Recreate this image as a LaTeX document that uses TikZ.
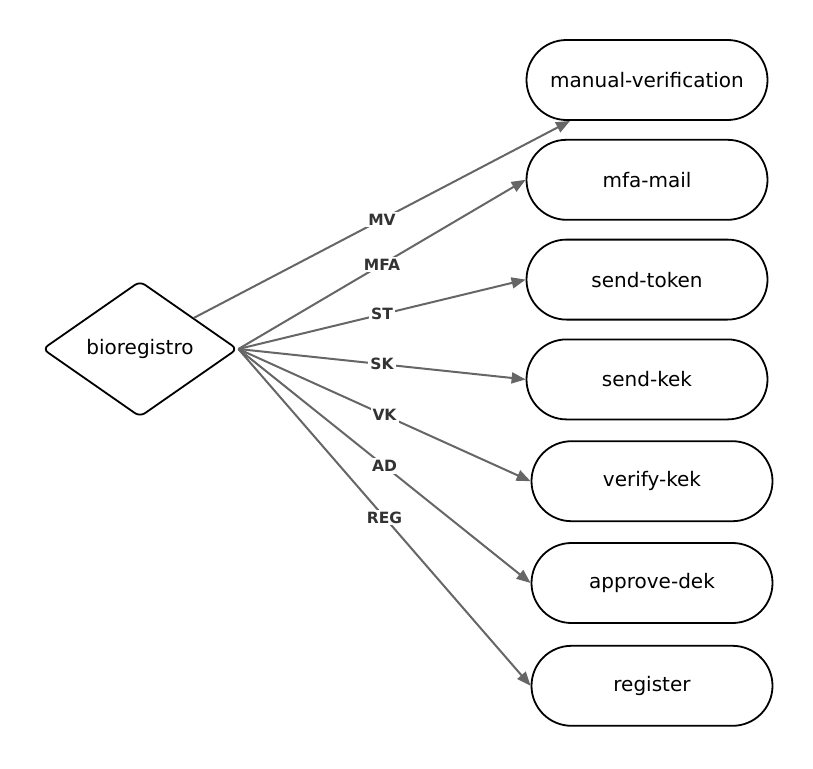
\documentclass[tikz,border=0pt]{standalone}
\usepackage{fontspec}
\setmainfont{DejaVu Sans}
\usetikzlibrary{arrows.meta,positioning,shapes.geometric}
\definecolor{linkgray}{HTML}{666666}
\definecolor{labelgray}{HTML}{333333}
\tikzset{
  endpoint/.style={draw=black, rounded corners=40pt, minimum width=241pt, minimum height=80pt, line width=1.8pt, align=center, font=\fontsize{20}{24}\selectfont},
  hub/.style={diamond, draw=black, rounded corners=6pt, minimum width=195pt, minimum height=136pt, inner sep=0pt, line width=1.8pt, font=\fontsize{20}{24}\selectfont},
  link/.style={draw=linkgray, -{Triangle[length=14pt,width=11pt]}, line width=2pt},
  edgelabel/.style={fill=white, text=labelgray, inner sep=2pt, font=\bfseries\fontsize{15.5}{18}\selectfont}
}

\begin{document}
\begin{tikzpicture}[x=1pt, y=1pt, node distance=18pt]
\useasboundingbox (0,0) rectangle (813,-768);
\node[hub] (bio) at (140,-349) {bioregistro};
\node[endpoint] (mv) at (647,-80) {manual-verification};
\node[endpoint, below=of mv] (mfa) {mfa-mail};
\node[endpoint, below=of mfa] (st) {send-token};
\node[endpoint, below=of st] (sk) {send-kek};
\node[endpoint, below=20pt of sk, xshift=5pt] (vk) {verify-kek};
\node[endpoint, below=20pt of vk] (ad) {approve-dek};
\node[endpoint, below=21pt of ad] (reg) {register};
\draw[link] (bio.30) -- node[edgelabel] {MV} (mv.208);
\draw[link] (bio.east) -- node[edgelabel] {MFA} (mfa.west);
\draw[link] (bio.east) -- node[edgelabel] {ST} (st.west);
\draw[link] (bio.east) -- node[edgelabel] {SK} (sk.west);
\draw[link] (bio.east) -- node[edgelabel] {VK} (vk.west);
\draw[link] (bio.east) -- node[edgelabel] {AD} (ad.west);
\draw[link] (bio.east) -- node[edgelabel] {REG} (reg.west);
\end{tikzpicture}
\end{document}
